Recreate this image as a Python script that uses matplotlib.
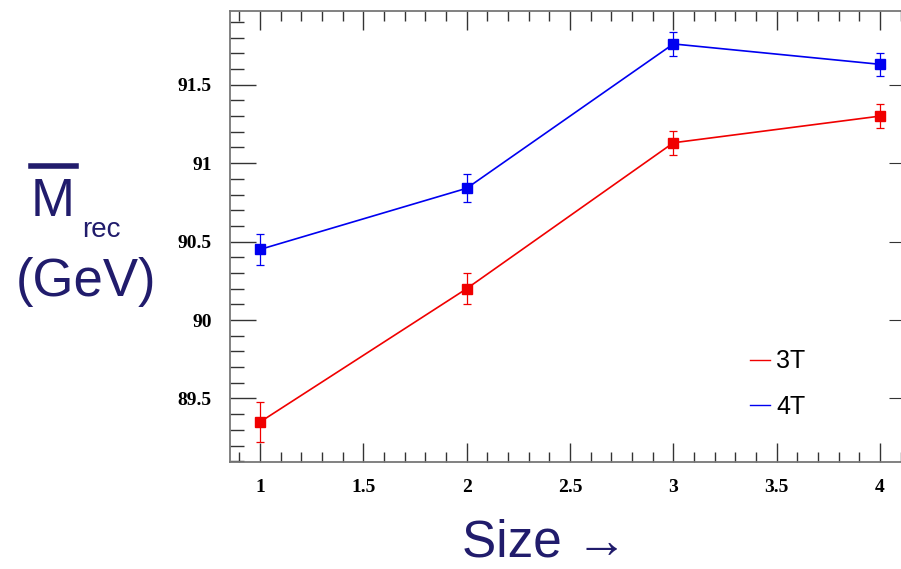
import numpy as np
import matplotlib.pyplot as plt
from matplotlib.lines import Line2D
from matplotlib.ticker import MultipleLocator, FixedFormatter, FixedLocator, NullLocator

# data
size = [1, 2, 3, 4]
m_3t = [89.35, 90.20, 91.13, 91.30]
err_3t = [0.125, 0.10, 0.077, 0.075]
m_4t = [90.45, 90.84, 91.76, 91.63]
err_4t = [0.10, 0.09, 0.075, 0.075]

xticks = [1, 1.5, 2, 2.5, 3, 3.5, 4]
xticklabels = ['1', '1.5', '2', '2.5', '3', '3.5', '4']
yticks = [89.5, 90, 90.5, 91, 91.5]
yticklabels = ['89.5', '90', '90.5', '91', '91.5']

navy = '#211c6c'
red = '#f00000'
blue = '#0000f0'

fig = plt.figure(figsize=(9.01, 5.69), dpi=100)
ax = fig.add_axes([0.2553, 0.188, 0.7467, 0.7927])

for y, e, c in [(m_3t, err_3t, red), (m_4t, err_4t, blue)]:
    ax.errorbar(size, y, yerr=e, color=c, lw=1.2, marker='s', ms=7,
                mec=c, mfc=c, elinewidth=0.9, capsize=3, capthick=0.9)

ax.set_xlim(0.855, 4.11)
ax.set_ylim(89.095, 91.97)

ax.xaxis.set_major_locator(FixedLocator(xticks))
ax.xaxis.set_major_formatter(FixedFormatter(xticklabels))
ax.yaxis.set_major_locator(FixedLocator(yticks))
ax.yaxis.set_major_formatter(FixedFormatter(yticklabels))
ax.xaxis.set_minor_locator(MultipleLocator(0.1))
ax.yaxis.set_minor_locator(MultipleLocator(0.1))

ax.tick_params(which='both', direction='in', top=True, right=False, color='#333333', width=1)
ax.tick_params(axis='x', which='major', length=14, pad=12)
ax.tick_params(axis='x', which='minor', length=7)
ax.tick_params(axis='y', which='major', length=19, pad=13)
ax.tick_params(axis='y', which='minor', length=10)
for lab in ax.get_xticklabels() + ax.get_yticklabels():
    lab.set_fontfamily('Liberation Serif')
    lab.set_fontweight('bold')
    lab.set_fontsize(14)
for s in ax.spines.values():
    s.set_color('#777777')
    s.set_linewidth(1.3)

# right side: major ticks only, shorter
sec = ax.secondary_yaxis('right')
sec.yaxis.set_major_locator(FixedLocator(yticks))
sec.yaxis.set_minor_locator(NullLocator())
sec.tick_params(direction='in', length=10, color='#333333', labelright=False)
sec.spines['right'].set_color('#777777')

# legend
handles = [Line2D([], [], color=red, lw=1), Line2D([], [], color=blue, lw=1)]
ax.legend(handles, ['3T', '4T'], loc='upper left', bbox_to_anchor=(0.758, 0.272),
          borderaxespad=0, frameon=False, handlelength=0.8, handletextpad=0.25,
          labelspacing=0.85, prop={'family': 'Liberation Sans', 'size': 18})

# axis titles
fig.text(0.0588, 0.645, 'M', color=navy, fontsize=38, family='Liberation Sans',
         ha='center', va='center')
fig.add_artist(Line2D([0.034, 0.084], [0.708, 0.708], color=navy, lw=4))
fig.text(0.112, 0.596, 'rec', color=navy, fontsize=20, family='Liberation Sans',
         ha='center', va='center')
fig.text(0.095, 0.504, '(GeV)', color=navy, fontsize=38, family='Liberation Sans',
         ha='center', va='center')
fig.text(0.604, 0.045, 'Size \u2192', color=navy, fontsize=37, family='Liberation Sans',
         ha='center', va='center')

fig.savefig('out.png', dpi=100)
